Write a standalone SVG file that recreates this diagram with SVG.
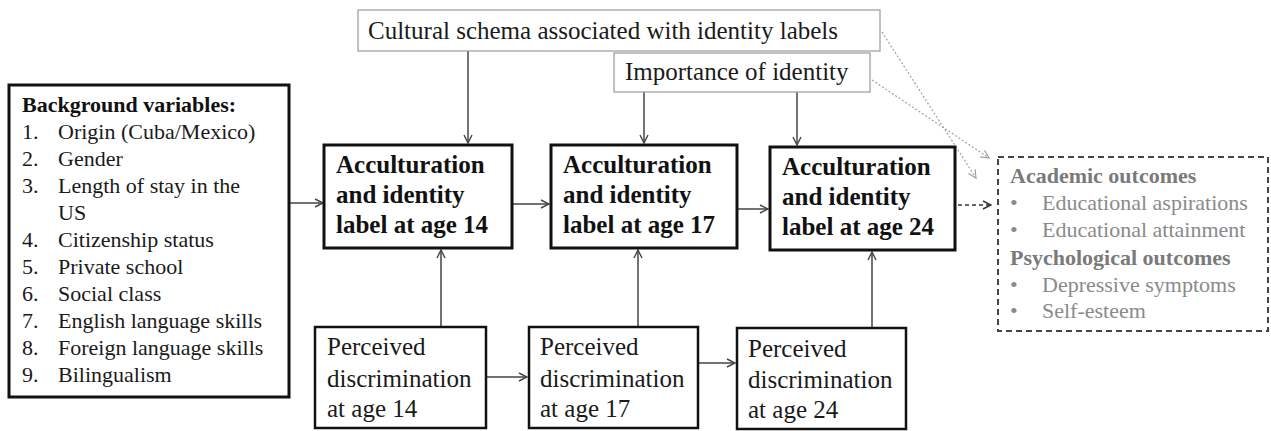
<svg xmlns="http://www.w3.org/2000/svg" width="1271" height="431" viewBox="0 0 1271 431">
<style>
text{font-family:"Liberation Serif","Times New Roman",serif;}
.t22{font-size:22px;fill:#1a1a1a;}
.t25{font-size:25px;fill:#1a1a1a;}
.b25{font-size:25px;font-weight:bold;fill:#111;}
.b22{font-size:22px;font-weight:bold;fill:#111;}
.thick{fill:#fff;stroke:#111;stroke-width:3;}
.med{fill:#fff;stroke:#111;stroke-width:2.5;}
.thin{fill:#fff;stroke:#9a9a9a;stroke-width:1.2;}
.dash{fill:#fff;stroke:#444;stroke-width:2;stroke-dasharray:6,4;}
.g22{font-size:22px;fill:#8a8a8a;}
.gb22{font-size:22px;font-weight:bold;fill:#7a7a7a;}
.con{stroke:#444;stroke-width:1.5;fill:none;marker-end:url(#ah);}
.dot{stroke:#a0a0a0;stroke-width:1.2;fill:none;stroke-dasharray:2,2;marker-end:url(#ahg);}
.dsh{stroke:#333;stroke-width:1.5;fill:none;stroke-dasharray:4,3;marker-end:url(#ahd);}
</style>
<defs>
<marker id="ah" viewBox="0 0 10 10" refX="9" refY="5" markerWidth="10" markerHeight="10" markerUnits="userSpaceOnUse" orient="auto">
<path d="M1,1 L9,5 L1,9" fill="none" stroke="#444" stroke-width="1.4"/>
</marker>
<marker id="ahg" viewBox="0 0 10 10" refX="9" refY="5" markerWidth="10" markerHeight="10" markerUnits="userSpaceOnUse" orient="auto">
<path d="M1,1 L9,5 L1,9" fill="none" stroke="#a0a0a0" stroke-width="1.2"/>
</marker>
<marker id="ahd" viewBox="0 0 10 10" refX="9" refY="5" markerWidth="10" markerHeight="10" markerUnits="userSpaceOnUse" orient="auto">
<path d="M1,1 L9,5 L1,9" fill="none" stroke="#333" stroke-width="1.5"/>
</marker>
</defs>
<rect width="1271" height="431" fill="#fff"/>

<g id="connectors">
<line class="con" x1="290" y1="203" x2="323" y2="203"/>
<line class="con" x1="468" y1="51" x2="468" y2="143"/>
<line class="con" x1="512" y1="204" x2="549" y2="204"/>
<line class="con" x1="644" y1="92" x2="644" y2="143"/>
<line class="con" x1="797" y1="92" x2="797" y2="145"/>
<line class="con" x1="737" y1="209" x2="768" y2="209"/>
<line class="con" x1="441" y1="327" x2="441" y2="250"/>
<line class="con" x1="638" y1="327" x2="638" y2="250"/>
<line class="con" x1="872" y1="328" x2="872" y2="252"/>
<line class="con" x1="486" y1="377" x2="527" y2="377"/>
<line class="con" x1="698" y1="363" x2="735" y2="363"/>
<line class="dot" x1="882" y1="32" x2="976" y2="178"/>
<line class="dot" x1="872" y1="80" x2="989" y2="158"/>
<line class="dsh" x1="958" y1="205" x2="991" y2="205"/>
</g>

<g id="cultural">
<rect class="thin" x="358" y="10" width="522" height="41"/>
<text class="t25" x="368" y="39">Cultural schema associated with identity labels</text>
</g>

<g id="importance">
<rect class="thin" x="614" y="53" width="256" height="39"/>
<text class="t25" x="625" y="80">Importance of identity</text>
</g>

<g id="background">
<rect class="thick" x="9" y="85" width="280" height="312"/>
<text class="b22" x="22" y="112">Background variables:</text>
<g class="t22">
<text x="22" y="139">1.</text><text x="58" y="139">Origin (Cuba/Mexico)</text>
<text x="22" y="166">2.</text><text x="58" y="166">Gender</text>
<text x="22" y="193">3.</text><text x="58" y="193">Length of stay in the</text>
<text x="58" y="220">US</text>
<text x="22" y="247">4.</text><text x="58" y="247">Citizenship status</text>
<text x="22" y="274">5.</text><text x="58" y="274">Private school</text>
<text x="22" y="301">6.</text><text x="58" y="301">Social class</text>
<text x="22" y="328">7.</text><text x="58" y="328">English language skills</text>
<text x="22" y="355">8.</text><text x="58" y="355">Foreign language skills</text>
<text x="22" y="382">9.</text><text x="58" y="382">Bilingualism</text>
</g>
</g>

<g id="acc14">
<rect class="thick" x="324" y="145" width="188" height="103"/>
<text class="b25" x="336" y="173">Acculturation</text>
<text class="b25" x="336" y="203">and identity</text>
<text class="b25" x="336" y="233">label at age 14</text>
</g>

<g id="acc17">
<rect class="thick" x="551" y="145" width="186" height="103"/>
<text class="b25" x="563" y="173">Acculturation</text>
<text class="b25" x="563" y="203">and identity</text>
<text class="b25" x="563" y="233">label at age 17</text>
</g>

<g id="acc24">
<rect class="thick" x="770" y="147" width="185" height="103"/>
<text class="b25" x="782" y="175">Acculturation</text>
<text class="b25" x="782" y="205">and identity</text>
<text class="b25" x="782" y="235">label at age 24</text>
</g>

<g id="pd14">
<rect class="med" x="315" y="327" width="171" height="101"/>
<text class="t25" x="327" y="355">Perceived</text>
<text class="t25" x="327" y="387">discrimination</text>
<text class="t25" x="327" y="417">at age 14</text>
</g>

<g id="pd17">
<rect class="med" x="529" y="327" width="169" height="101"/>
<text class="t25" x="540" y="355">Perceived</text>
<text class="t25" x="540" y="387">discrimination</text>
<text class="t25" x="540" y="417">at age 17</text>
</g>

<g id="pd24">
<rect class="med" x="737" y="328" width="169" height="101"/>
<text class="t25" x="748" y="357">Perceived</text>
<text class="t25" x="748" y="388">discrimination</text>
<text class="t25" x="748" y="418">at age 24</text>
</g>

<g id="outcomes">
<rect class="dash" x="998" y="157" width="270" height="174"/>
<text class="gb22" x="1010" y="183">Academic outcomes</text>
<text class="g22" x="1010" y="210">•</text><text class="g22" x="1042" y="210">Educational aspirations</text>
<text class="g22" x="1010" y="237">•</text><text class="g22" x="1042" y="237">Educational attainment</text>
<text class="gb22" x="1010" y="265">Psychological outcomes</text>
<text class="g22" x="1010" y="292">•</text><text class="g22" x="1042" y="292">Depressive symptoms</text>
<text class="g22" x="1010" y="318">•</text><text class="g22" x="1042" y="318">Self-esteem</text>
</g>
</svg>
